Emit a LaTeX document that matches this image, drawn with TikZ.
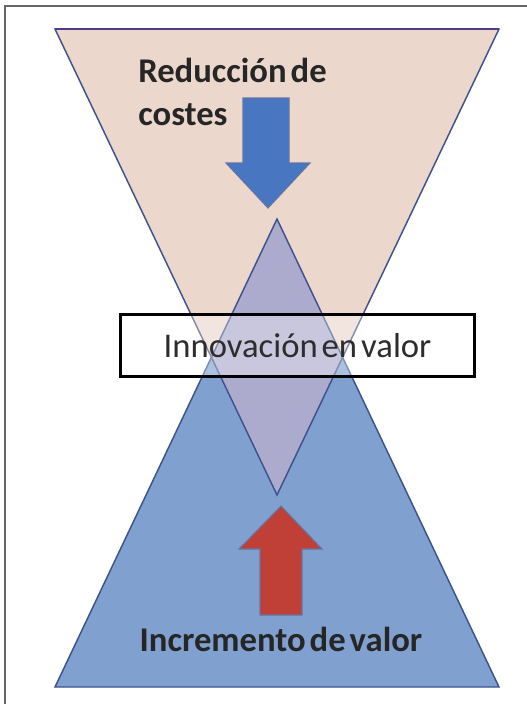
\documentclass[tikz,border=0pt]{standalone}
\usepackage{fontspec}
\setmainfont{Carlito}
\definecolor{pinkfill}{RGB}{236,215,205}
\definecolor{bluefill}{RGB}{128,160,208}
\definecolor{lavfill}{RGB}{172,170,205}
\definecolor{edgeblue}{RGB}{62,82,140}
\definecolor{arrowblue}{RGB}{72,118,192}
\definecolor{arrowred}{RGB}{192,64,56}
\definecolor{textgray}{RGB}{45,45,45}
\newcommand\tightwords{\spaceskip=3pt plus 1pt minus 1pt\relax}
\tikzset{
  tri/.style={draw=edgeblue, line width=1.1pt, line join=miter},
  bigarrow/.style={draw=edgeblue!80, line width=.8pt},
  boldlabel/.style={font=\fontsize{26}{32}\selectfont\bfseries\tightwords, text=black!85, inner sep=0pt},
}
\begin{document}
\begin{tikzpicture}[x=.75pt,y=-.75pt]
\useasboundingbox (0,0) rectangle (527,704);
\fill[white] (0,0) rectangle (527,704);
% frame
\draw[black!60, line width=1.5pt] (5,704)--(5,6)--(527,6);

% the two triangles
\coordinate (tl) at (55,29);
\coordinate (tr) at (499,29);
\coordinate (tb) at (277,495);
\coordinate (bl) at (55,687);
\coordinate (br) at (499,687);
\coordinate (bt) at (277,219);
\fill[bluefill] (bl)--(br)--(bt)--cycle;
\fill[pinkfill] (tl)--(tr)--(tb)--cycle;
\begin{scope}
\clip (tl)--(tr)--(tb)--cycle;
\fill[lavfill] (bl)--(br)--(bt)--cycle;
\end{scope}
\draw[tri] (bl)--(br)--(bt)--cycle;
\draw[tri] (tl)--(tr)--(tb)--cycle;
\draw[draw=edgeblue!70!violet, line width=2pt] (tl)--(tr);

% arrows
\draw[bigarrow, fill=arrowblue] (243,98)--(289,98)--(289,163)--(310,163)--(268,208)--(226,163)--(243,163)--cycle;
\draw[bigarrow, fill=arrowred] (260,615)--(302,615)--(302,549)--(322,549)--(281,506)--(239,549)--(260,549)--cycle;

% box
\node[draw=black, line width=2.4pt, fill=white, fill opacity=.35, text opacity=1,
  minimum width=266pt, minimum height=47pt, inner sep=0pt] (innov) at (297.5,345.5) {};
\node[font=\fontsize{26}{32}\selectfont\tightwords, text=textgray, inner sep=0pt, anchor=base]
  (innovtext) at (297.5,357) {Innovación en valor};

% labels
\node[boldlabel, anchor=base west] (reduc) at (138,82) {Reducción de};
\node[boldlabel, anchor=base west] (costes) at (138,125) {costes};
\node[boldlabel, anchor=base] (incr) at (281,651) {Incremento de valor};
\end{tikzpicture}
\end{document}
